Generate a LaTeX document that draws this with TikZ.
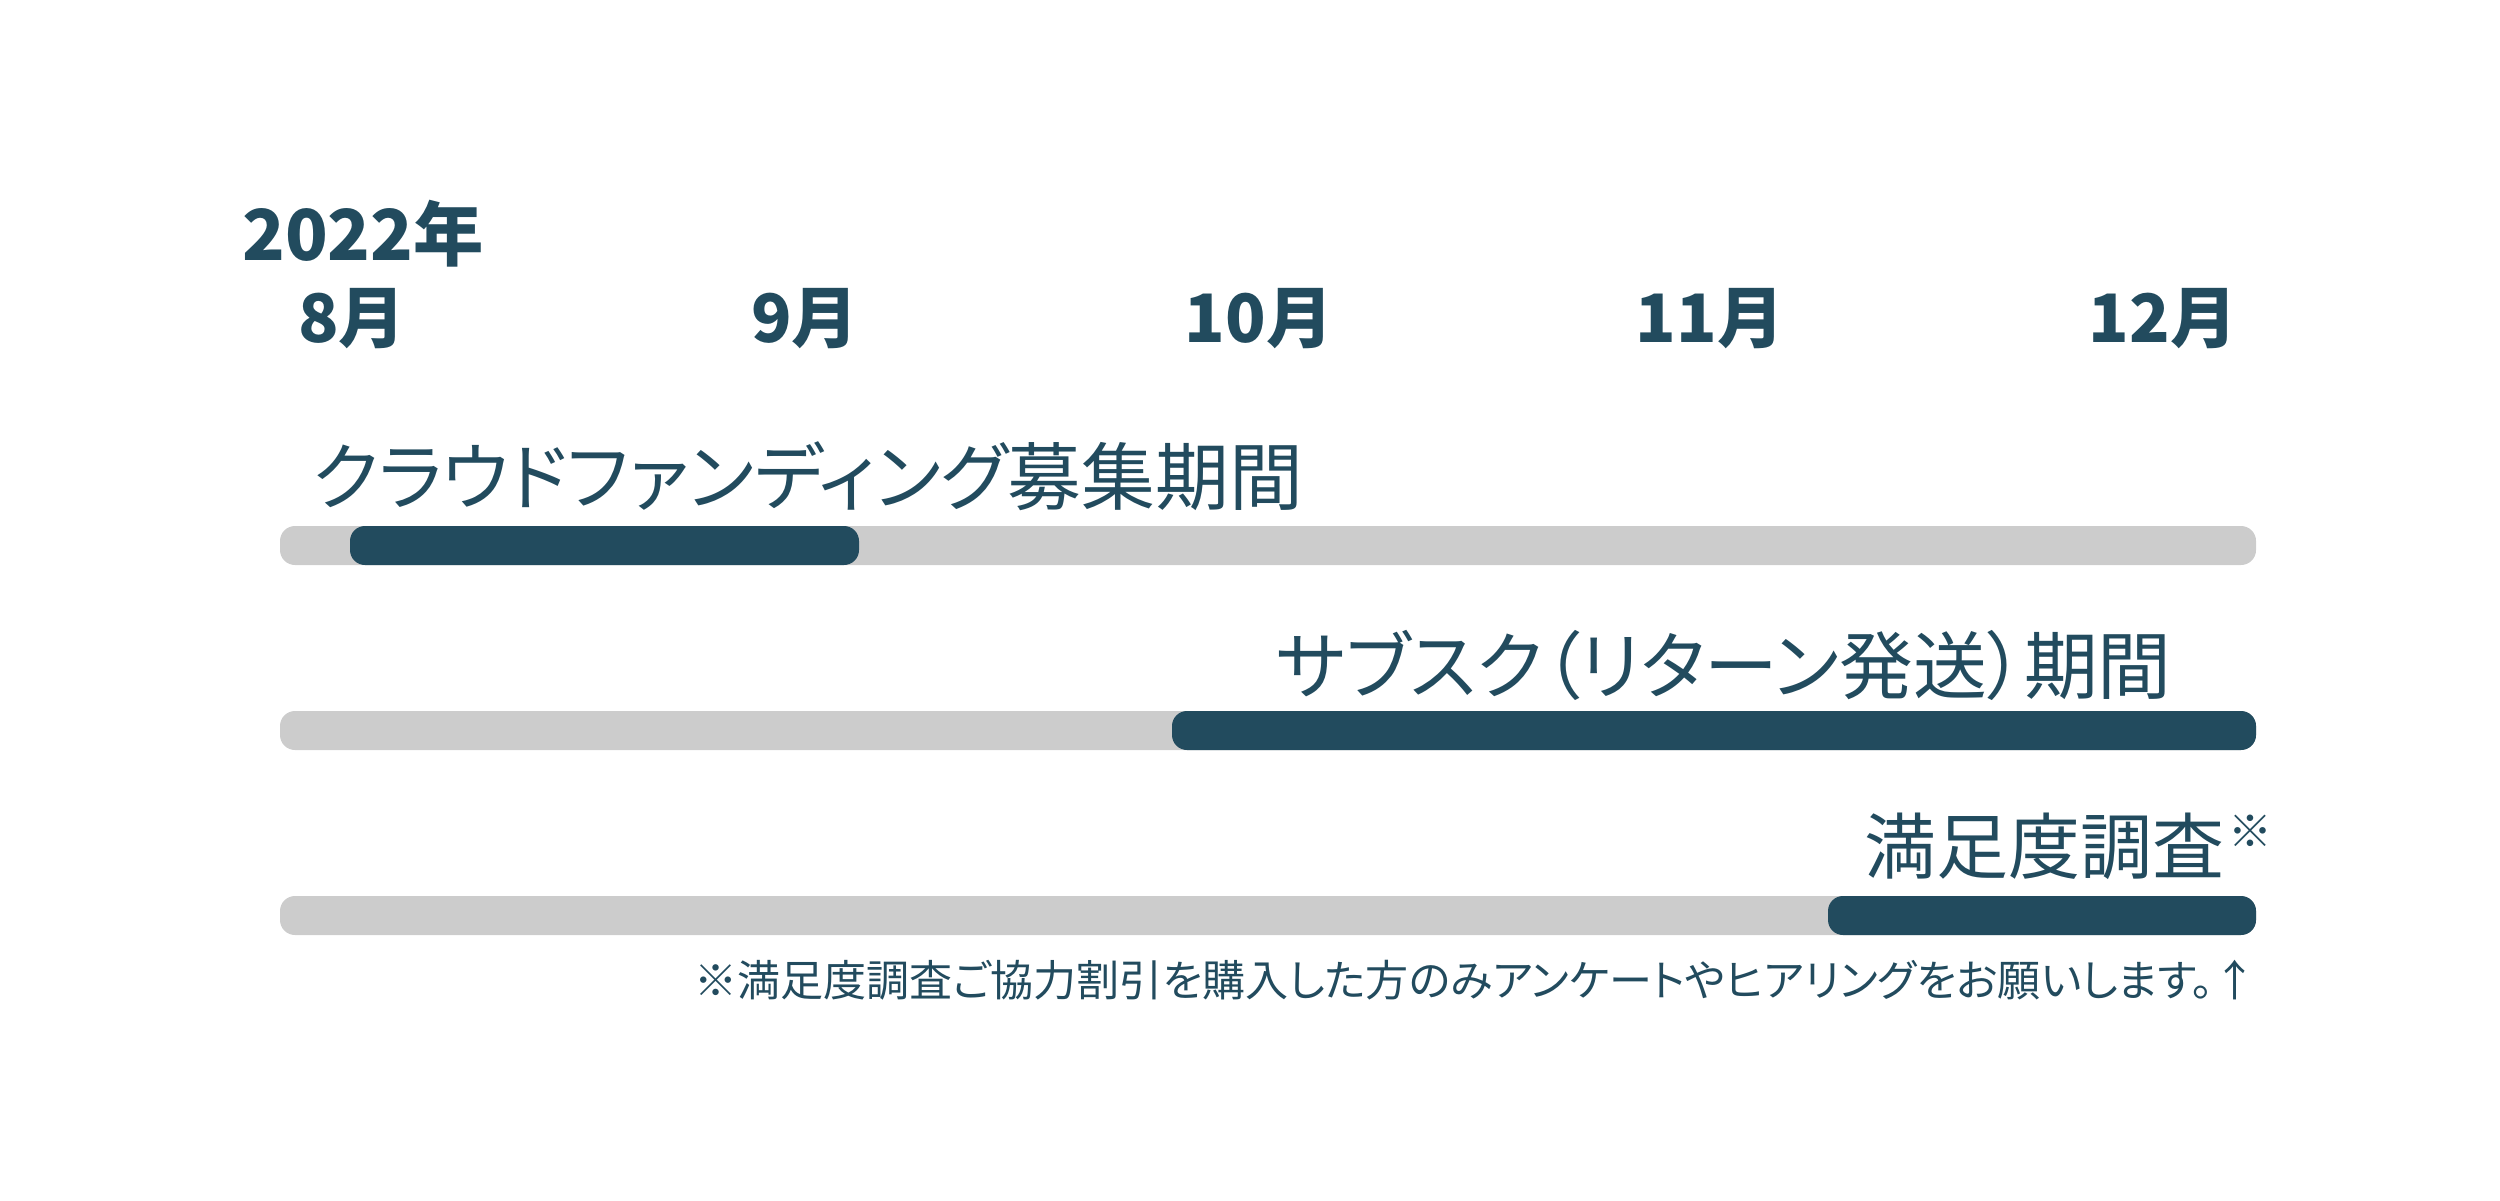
\documentclass[tikz,border=0pt]{standalone}
\usepackage{fontspec}
\newfontfamily\cjk{Noto Sans CJK JP}
\newfontfamily\cjkp{Noto Sans CJK JP}[RawFeature=+palt]
\definecolor{teal}{RGB}{34,75,94}
\definecolor{track}{RGB}{204,204,204}
\tikzset{
  yearlbl/.style={font=\cjk\bfseries\fontsize{40}{40}\selectfont, text=teal, inner sep=0pt},
  monthlbl/.style={font=\cjk\bfseries\fontsize{38}{38}\selectfont, text=teal, inner sep=0pt, anchor=center},
  titlelbl/.style={font=\cjkp\fontsize{42}{42}\selectfont, text=teal, inner sep=0pt},
  kanjilbl/.style={font=\cjk\fontsize{41}{41}\selectfont, text=teal, inner sep=0pt},
  notelbl/.style={font=\cjkp\fontsize{24.5}{24.5}\selectfont, text=teal, inner sep=0pt},
  marklbl/.style={font=\cjk\fontsize{25}{25}\selectfont, text=teal, inner sep=0pt},
  trackbar/.style={fill=track, rounded corners=15*0.02cm},
  activebar/.style={fill=teal, rounded corners=15*0.02cm},
}
\begin{document}
\begin{tikzpicture}[x=0.02cm,y=-0.02cm]
\useasboundingbox (0,0) rectangle (2500,1200);
\node[yearlbl, anchor=west] (year) at (242,234) {2022年};
\node[monthlbl] (m8) at (352,319) {8月};
\node[monthlbl] (m9) at (805,319) {9月};
\node[monthlbl] (m10) at (1259,319) {10月};
\node[monthlbl] (m11) at (1710,319) {11月};
\node[monthlbl] (m12) at (2163,319) {12月};
% bar 1
\node[titlelbl, anchor=west] (t1) at (312,476) {クラウドファンディング募集期間};
\path[trackbar] (280,526) rectangle (2256,565);
\path[activebar] (350,526) rectangle (859,565);
% bar 2
\node[titlelbl, anchor=east] (t2) at (2172,665) {サブスク（リターン発送）期間};
\path[trackbar] (280,711) rectangle (2256,750);
\path[activebar] (1172,711) rectangle (2256,750);
% bar 3
\node[kanjilbl, anchor=east] (t3) at (2225,846) {満足度調査};
\node[marklbl, anchor=north west] (t3s) at ([xshift=3*0.02cm,yshift=-2*0.02cm]t3.north east) {※};
\path[trackbar] (280,896) rectangle (2256,935);
\path[activebar] (1828,896) rectangle (2256,935);
\node[notelbl, anchor=east] (note) at (2257,980) {※満足度調査ご協力割引を購入した方のみアンケートやヒアリングをお願いします。↑};
\end{tikzpicture}
\end{document}
